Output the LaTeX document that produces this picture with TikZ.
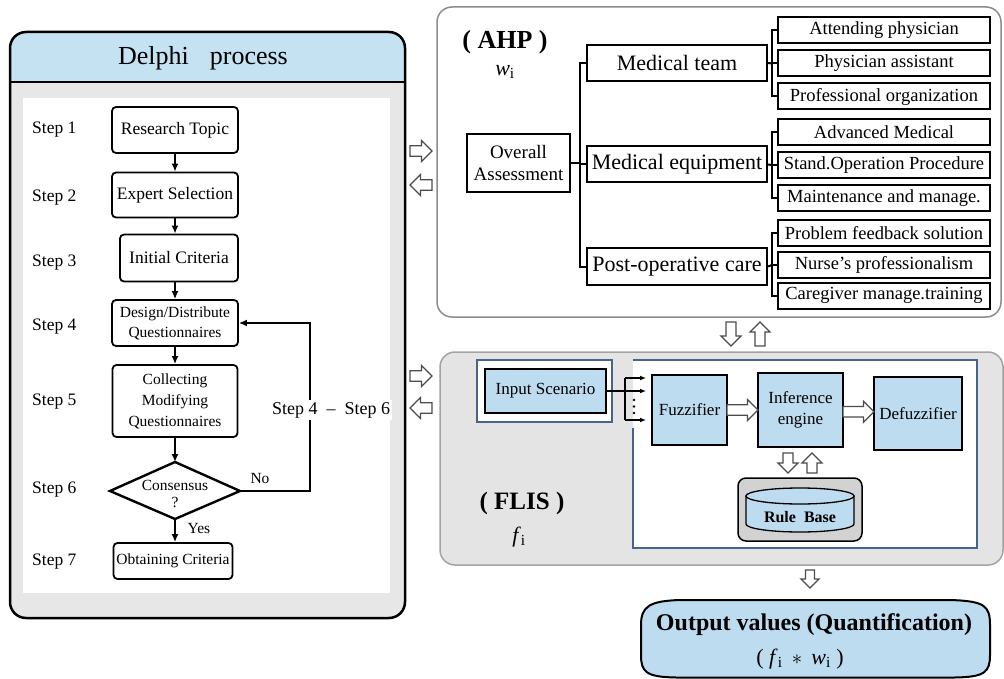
\documentclass[tikz,border=0pt]{standalone}
\usepackage{fontspec}
\setmainfont{Liberation Serif}
\usetikzlibrary{calc,arrows.meta}
\definecolor{boxblue}{RGB}{190,220,240}
\definecolor{headblue}{RGB}{197,226,243}
\definecolor{panelgray}{RGB}{231,231,231}
\definecolor{flisgray}{RGB}{228,228,228}
\definecolor{rimgray}{RGB}{140,140,140}
\definecolor{rbgray}{RGB}{210,210,210}
\definecolor{frameblue}{RGB}{70,100,140}
\newcommand{\setfs}[2]{\fontsize{#1}{#2}\selectfont}
\tikzset{
  pics/harrow/.style args={#1/#2}{code={
    \draw[line width=1.3pt, draw=black!70, fill=white, line join=miter]
      (-#1/2,-#2/4) -- ({#1/2-#2/2},-#2/4) -- ({#1/2-#2/2},-#2/2) -- (#1/2,0)
      -- ({#1/2-#2/2},#2/2) -- ({#1/2-#2/2},#2/4) -- (-#1/2,#2/4) -- cycle;}},
}
\begin{document}
\begin{tikzpicture}[x=1pt,y=-1pt,
  dbox/.style={draw, line width=1.8pt, rounded corners=4pt, fill=white, align=center, inner sep=1pt},
  steplbl/.style={anchor=west, inner sep=0pt, font=\setfs{17.5}{20}},
  flow/.style={line width=1.6pt, -{Latex[length=8pt,width=7pt]}},
  tree/.style={line width=2pt},
  abox/.style={draw, line width=2pt, fill=white, align=center, inner sep=1pt},
  mbox/.style={abox, minimum width=180pt, minimum height=36pt, font=\setfs{22}{24}},
  sbox/.style={abox, minimum width=212pt, minimum height=26pt, font=\setfs{18.5}{20}},
  fbox/.style={draw, line width=2pt, fill=boxblue, align=center, inner sep=1pt, font=\setfs{17}{21.5}},
]
\useasboundingbox (0,0) rectangle (1004,679);

% ---------------- Delphi panel ----------------
\fill[panelgray, rounded corners=16pt] (10,32) rectangle (405,618);
\begin{scope}
  \clip[rounded corners=16pt] (10,32) rectangle (405,618);
  \fill[headblue] (10,32) rectangle (405,82);
\end{scope}
\fill[white] (23,98) rectangle (390,593);
\draw[line width=2pt] (10,82) -- (405,82);
\draw[line width=2.5pt, rounded corners=16pt] (10,32) rectangle (405,618);
\node[font=\setfs{26}{28}] (dtitle) at (203,58) {Delphi\hspace{21pt}process};

\node[steplbl] (s1) at (32,130) {Step 1};
\node[steplbl] (s2) at (32,198) {Step 2};
\node[steplbl] (s3) at (32,263) {Step 3};
\node[steplbl] (s4) at (32,327) {Step 4};
\node[steplbl] (s5) at (32,402) {Step 5};
\node[steplbl] (s6) at (32,490) {Step 6};
\node[steplbl] (s7) at (32,562) {Step 7};

\node[dbox, minimum width=126pt, minimum height=46pt, font=\setfs{17.5}{20}] (rt) at (175,130) {Research Topic};
\node[dbox, minimum width=126pt, minimum height=45pt, font=\setfs{17.5}{20}] (es) at (175,195) {Expert Selection};
\node[dbox, minimum width=118pt, minimum height=47pt, font=\setfs{17.5}{20}] (ic) at (179,258) {Initial Criteria};
\node[dbox, minimum width=126pt, minimum height=46pt, font=\setfs{15.5}{20}] (dd) at (175,323) {Design/Distribute\\Questionnaires};
\node[dbox, minimum width=125pt, minimum height=72pt, font=\setfs{15.5}{21}] (cm) at (175,401) {Collecting\\Modifying\\Questionnaires};
\coordinate (dW) at (110,491);
\coordinate (dN) at (175,462);
\coordinate (dE) at (240,491);
\coordinate (dS) at (175,519);
\draw[line width=2.4pt, fill=white, line join=miter] (dW) -- (dN) -- (dE) -- (dS) -- cycle;
\node[align=center, inner sep=0pt, font=\setfs{15.5}{17}] (cons) at (175,494) {Consensus\\?};
\node[dbox, minimum width=119pt, minimum height=36pt, font=\setfs{15.5}{18}] (oc) at (173,561) {Obtaining Criteria};

\draw[flow] (rt.south) -- (es.north);
\draw[flow] (es.south) -- (es.south |- ic.north);
\draw[flow] (es.south |- ic.south) -- (dd.north);
\draw[flow] (dd.south) -- (cm.north);
\draw[flow] (cm.south) -- (dN);
\draw[flow] (dS) -- (dS |- oc.north);
\coordinate (loopR) at (310,491);
\draw[flow] (dE) -- (loopR) |- (dd.east);
\node[fill=white, inner sep=2pt, font=\setfs{18}{20}] (loopl) at (331,410) {Step 4\enspace–\enspace Step 6};
\node[font=\setfs{15.5}{18}, inner sep=0pt] (nolbl) at (260,478) {No};
\node[font=\setfs{15.5}{18}, inner sep=0pt] (yeslbl) at (199,528) {Yes};

% ---------------- AHP panel ----------------
\draw[rimgray, line width=1.5pt, fill=white, rounded corners=15pt] (437,7) rectangle (1001,317);
\node[font=\bfseries\setfs{26}{28}] (ahp) at (505,42) {( AHP )};
\node[font=\setfs{22}{24}] (wi) at (505,72) {\textit{w}\textsubscript{i}};

\node[abox, minimum width=103pt, minimum height=58pt, font=\setfs{19}{21.5}] (overall) at (518.5,163) {Overall\\Assessment};
\node[mbox] (team) at (677,63) {Medical team};
\node[mbox] (equip) at (677,164.5) {Medical equipment};
\node[mbox] (post) at (677,266.5) {Post-operative care};

\node[sbox] (c11) at (884,30) {Attending physician};
\node[sbox] (c12) at (884,63.5) {Physician assistant};
\node[sbox] (c13) at (884,96.5) {Professional organization};
\node[sbox] (c21) at (884,132.5) {Advanced Medical};
\node[sbox] (c22) at (884,165) {Stand.Operation Procedure};
\node[sbox] (c23) at (884,198.5) {Maintenance and manage.};
\node[sbox] (c31) at (884,233.5) {Problem feedback solution};
\node[sbox] (c32) at (884,265) {Nurse's professionalism};
\node[sbox] (c33) at (884,295.5) {Caregiver manage.training};

\draw[tree] (team.west) -- ++(-6,0) coordinate (trunk) |- (post.west);
\draw[tree] (equip.west) -- ++(-6,0);
\draw[tree] (overall.east) -- (overall.east -| trunk);
\foreach \m/\a/\b/\c in {team/c11/c12/c13, equip/c21/c22/c23, post/c31/c32/c33}{
  \draw[tree] (\m.east) -- ($(\b.west)+(-5,0)$);
  \draw[tree] (\a.west) -- ++(-5,0) |- (\c.west);
  \draw[tree] (\b.west) -- ++(-5,0);
}

% ---------------- FLIS panel ----------------
\draw[rimgray!80, line width=1.5pt, fill=flisgray, rounded corners=15pt] (440,352) rectangle (1003,565);
\fill[white] (633,360) rectangle (977,548);
\draw[frameblue, line width=1.2pt] (633,428) -- (633,548) -- (977,548) -- (977,360) -- (633,360);
\draw[frameblue, line width=1.2pt, fill=white] (477,360) rectangle (612,422);
\node[fbox, minimum width=121pt, minimum height=44pt] (inp) at (545.5,391) {Input Scenario};
\node[fbox, minimum width=75pt, minimum height=70pt] (fuzz) at (689.5,410) {Fuzzifier};
\node[fbox, minimum width=85pt, minimum height=74pt] (inf) at (800.5,410) {Inference\\engine};
\node[fbox, minimum width=88pt, minimum height=73pt] (defz) at (918,413.5) {Defuzzifier};

\coordinate (bt) at (625,378);
\coordinate (bb) at (625,420);
\draw[line width=1.5pt] (inp.east) -- (inp.east -| bt);
\draw[line width=1.5pt] (bt) -- (bb);
\draw[flow, -{Latex[length=6pt,width=5pt]}, shorten >=5pt] (bt) -- (bt -| fuzz.west);
\draw[flow, -{Latex[length=6pt,width=5pt]}, shorten >=5pt] (inp.east -| bt) -- (inp.east -| fuzz.west);
\draw[flow, -{Latex[length=6pt,width=5pt]}, shorten >=5pt] (bb) -- (bb -| fuzz.west);
% vertical ellipsis between the input lines
\foreach \yy in {400,406.5,413} \fill (634,\yy) circle[radius=1.3pt];

\pic at ($(fuzz.east)!0.5!(inf.west)$) {harrow=31/21};
\pic at ($(inf.east)!0.5!(defz.west)$) {harrow=31/21};

\node[draw, line width=1.5pt, rounded corners=8pt, fill=rbgray, minimum width=124pt, minimum height=63pt] (rbbox) at (800,509.5) {};
\filldraw[fill=boxblue, line width=1.3pt] (746,496) -- (746,524) arc[start angle=180, end angle=360, x radius=54pt, y radius=8pt] -- (854,496) -- cycle;
\filldraw[fill=boxblue, line width=1.3pt] (800,496) ellipse[x radius=54pt, y radius=8pt];
\node[font=\bfseries\setfs{16}{18}] (rb) at (800,517) {Rule\hspace{8pt}Base};

\pic[rotate=-90] at (788,463) {harrow=20/20};
\pic[rotate=90] at (812,463) {harrow=20/20};

\node[font=\bfseries\setfs{25}{27}] (flis) at (522,503) {( FLIS )};
\node[font=\setfs{22}{24}] (fi) at (519,537) {\textit{f}\textsubscript{i}};

% ---------------- links between panels ----------------
\pic at (421,151) {harrow=22/21};
\pic[rotate=180] at (421,185) {harrow=22/21};
\pic at (421,376) {harrow=22/21};
\pic[rotate=180] at (421,408) {harrow=22/21};
\pic[rotate=-90] at (731,334) {harrow=24/20};
\pic[rotate=90] at (760,334) {harrow=24/20};
\pic[rotate=-90] at (810,579) {harrow=18/18};

% ---------------- output ----------------
\filldraw[fill=boxblue, line width=2pt]
  (641,625) .. controls (641,606) and (650,601) .. (680,600) -- (950,600)
  .. controls (985,601) and (990,606) .. (990,625) -- (990,655)
  .. controls (990,672) and (985,677) .. (955,677.5) -- (676,677.5)
  .. controls (646,677) and (641,672) .. (641,655) -- cycle;
\node[font=\bfseries\setfs{24}{26}] (outv) at (814,625) {Output values (Quantification)};
\node[font=\setfs{22}{24}] (outf) at (800,659) {( \textit{f}\textsubscript{i} \,$\ast$\, \textit{w}\textsubscript{i} )};
\end{tikzpicture}
\end{document}
